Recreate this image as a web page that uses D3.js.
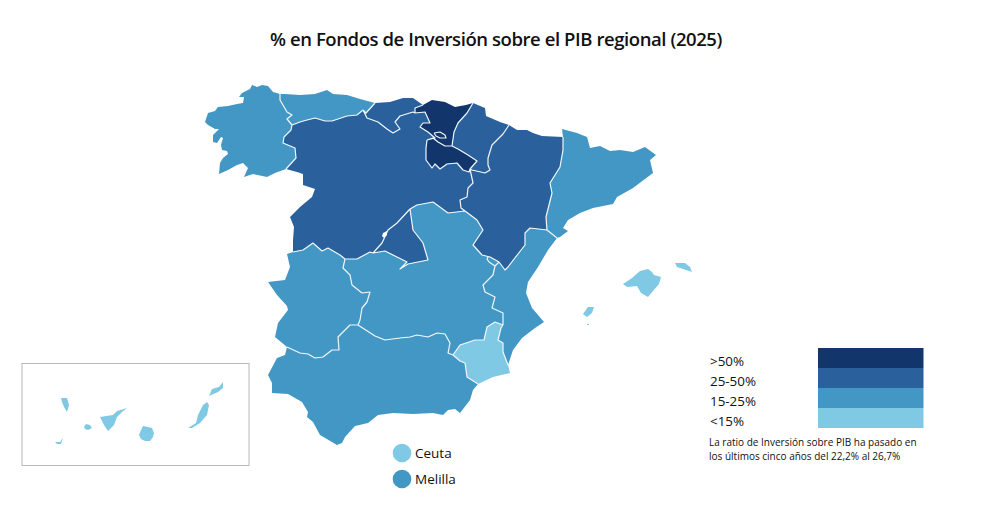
<!DOCTYPE html>
<html lang="es"><head><meta charset="utf-8">
<script src="https://cdn.jsdelivr.net/npm/d3@7/dist/d3.min.js"></script>
<style>html,body{margin:0;background:#fff}svg{display:block}text{font-family:"Open Sans",sans-serif;fill:#111}</style>
</head><body><svg id="c" width="992" height="509"></svg>
<script>
const titleText = "% en Fondos de Inversión sobre el PIB regional (2025)";
const classLabels = [">50%","25-50%","15-25%","<15%"];
const classColors = ["#12356b","#2a619c","#4397c5","#80c9e5"];
const noteLines = ["La ratio de Inversión sobre PIB ha pasado en","los últimos cinco años del 22,2% al 26,7%"];

const regionNames = ["Galicia","Asturias","Cantabria","País Vasco","Navarra","La Rioja","Aragón","Cataluña","Castilla y León","Madrid","Castilla-La Mancha","C. Valenciana","Murcia","Andalucía","Extremadura","Baleares","Canarias"];
const regionClasses = ["15-25%","15-25%","25-50%",">50%","25-50%",">50%","25-50%","15-25%","25-50%","25-50%","15-25%","15-25%","<15%","15-25%","15-25%","<15%","<15%"];
const cityNames = ["Ceuta","Melilla"];
const cityClasses = ["<15%","15-25%"];

// Boundary arcs, in sheet units.
const arcs = {
 gal_coast:[[280,94],[273,92],[268,86],[262,85],[257,87],[252,85],[250,89],[242,93],[239,97],[244,97],[243,103],[237,104],[228,106],[218,107],[215,111],[208,113],[205,122],[208,125],[215,129],[219,129],[213,135],[213,142],[217,143],[221,137],[223,138],[221,145],[222,150],[227,151],[228,154],[223,158],[220,163],[219,174],[228,170],[237,165],[243,163],[248,168],[244,177],[253,174],[267,177],[275,173],[286,169]],
 pt_cyl:[[286,169],[297,172],[303,174],[303,185],[315,189],[312,197],[300,207],[290,217],[294,227],[293,240],[293,252]],
 gal_ast:[[280,94],[280,100],[287,112],[292,115],[287,119],[292,125]],
 gal_cyl:[[292,125],[291,130],[284,137],[283,143],[295,148],[296,158],[286,169]],
 ast_coast:[[280,94],[285,94],[300,95],[315,94],[327,90],[333,94],[347,95],[360,99],[375,103]],
 ast_kan:[[375,103],[366,113],[363,110]],
 ast_cyl:[[292,125],[300,122],[307,120],[315,118],[325,121],[332,121],[347,116],[357,115],[363,110]],
 kan_coast:[[375,103],[390,102],[403,98],[413,98],[423,105]],
 kan_cyl:[[363,110],[367,118],[378,122],[387,129],[393,133],[400,129],[395,122],[400,116],[413,112],[415,113]],
 kan_bas:[[415,113],[415,108],[423,105]],
 bas_coast:[[423,105],[432,100],[445,102],[455,107],[466,105],[473,103]],
 bas_nav:[[473,103],[467,113],[458,123],[454,132],[452,146]],
 bas_cyl:[[415,113],[425,112],[430,123],[423,123],[420,127],[428,132],[435,138],[427,140]],
 bas_rio:[[427,140],[433,138],[438,142],[445,146],[452,146]],
 nav_rio:[[452,146],[458,149],[468,155],[477,161],[470,169]],
 rio_cyl:[[470,169],[469,172],[463,170],[457,163],[447,164],[440,169],[435,164],[432,168],[426,160],[426,148],[427,140]],
 nav_coast:[[473,103],[485,108],[486,116],[500,122],[509,125]],
 nav_ara:[[470,169],[472,170],[485,173],[490,170],[488,165],[488,158],[492,145],[503,134],[509,125]],
 ara_coast:[[509,125],[517,130],[527,130],[533,133],[542,136],[563,137]],
 ara_cat:[[563,137],[563,150],[560,167],[550,183],[552,193],[549,205],[546,217],[547,230]],
 cat_coast:[[563,137],[562,129],[577,133],[587,137],[590,148],[600,146],[610,151],[620,150],[633,152],[645,147],[656,155],[650,160],[653,173],[633,188],[617,197],[613,204],[593,208],[580,213],[568,220],[563,228],[568,231],[560,237],[557,238]],
 cat_val:[[547,230],[557,238]],
 ara_val:[[547,230],[530,228],[525,233],[525,245],[518,254],[508,267],[505,270],[499,262]],
 ara_clm:[[465,211],[477,220],[483,230],[473,245],[482,255],[490,257],[499,262]],
 cyl_ara:[[470,169],[473,183],[468,188],[467,197],[460,200],[461,208],[465,211]],
 cyl_clmN:[[410,209],[417,205],[433,202],[448,213],[465,211]],
 cyl_mad:[[373,253],[382,243],[388,230],[397,223],[410,209]],
 clm_mad:[[373,253],[385,251],[397,257],[407,262],[400,269],[408,264],[428,260],[423,243],[413,230],[410,209]],
 cyl_clmW:[[345,259],[357,259],[370,252],[373,253]],
 cyl_ext:[[293,252],[303,250],[313,243],[322,251],[328,248],[340,255],[345,259]],
 ext_clm:[[345,259],[343,268],[350,275],[352,285],[362,293],[370,292],[367,302],[362,308],[360,320],[358,325]],
 ext_and:[[358,325],[350,325],[338,337],[339,350],[332,350],[323,357],[315,358],[308,354],[300,353],[287,347]],
 ext_pt:[[293,252],[287,254],[290,267],[285,280],[268,282],[277,295],[287,306],[288,310],[278,323],[275,337],[287,347]],
 and_clm:[[358,325],[375,336],[385,340],[400,338],[410,337],[417,335],[428,337],[437,333],[445,334],[450,343],[448,353],[453,355]],
 and_mur:[[453,355],[460,361],[465,363],[467,377],[478,384]],
 and_coast:[[287,347],[285,355],[277,358],[268,375],[272,383],[272,393],[288,394],[302,402],[308,412],[307,417],[313,422],[320,435],[337,445],[342,443],[345,437],[355,426],[368,423],[378,415],[393,413],[413,414],[433,413],[443,415],[448,410],[455,409],[460,413],[470,400],[473,390],[478,384]],
 mur_clm:[[453,355],[460,345],[475,340],[484,340],[487,327],[495,322],[503,325]],
 val_clm:[[499,262],[495,266],[493,275],[483,285],[485,292],[495,297],[492,308],[503,313],[503,325]],
 mur_val:[[503,325],[501,328],[498,340],[503,343],[503,352],[508,365]],
 mur_coast:[[508,365],[510,373],[493,377],[478,384]],
 val_coast:[[557,238],[548,250],[538,267],[528,282],[526,293],[532,308],[544,322],[535,328],[522,338],[513,350],[508,365]]
};
const regionRings = [
 ["gal_ast","gal_cyl","-gal_coast"],
 ["ast_coast","ast_kan","-ast_cyl","-gal_ast"],
 ["kan_coast","-kan_bas","-kan_cyl","-ast_kan"],
 ["bas_coast","bas_nav","-bas_rio","-bas_cyl","kan_bas"],
 ["nav_coast","-nav_ara","-nav_rio","-bas_nav"],
 ["bas_rio","nav_rio","rio_cyl"],
 ["ara_coast","ara_cat","ara_val","-ara_clm","-cyl_ara","nav_ara"],
 ["cat_coast","-cat_val","-ara_cat"],
 ["-gal_cyl","ast_cyl","kan_cyl","bas_cyl","-rio_cyl","cyl_ara","-cyl_clmN","-cyl_mad","-cyl_clmW","-cyl_ext","-pt_cyl"],
 ["cyl_mad","-clm_mad"],
 ["cyl_clmW","clm_mad","cyl_clmN","ara_clm","val_clm","-mur_clm","-and_clm","-ext_clm"],
 ["cat_val","val_coast","-mur_val","-val_clm","-ara_val"],
 ["mur_val","mur_coast","-and_mur","mur_clm"],
 ["and_clm","and_mur","-and_coast","-ext_and"],
 ["ext_clm","ext_and","-ext_pt","cyl_ext"]
];
const interiorArcs = ["gal_ast","gal_cyl","ast_kan","ast_cyl","kan_cyl","kan_bas","bas_nav","bas_cyl","bas_rio","nav_rio","rio_cyl","nav_ara","ara_cat","cat_val","ara_val","ara_clm","cyl_ara","cyl_clmN","cyl_mad","clm_mad","cyl_clmW","cyl_ext","ext_clm","ext_and","and_clm","and_mur","mur_clm","val_clm","mur_val"];
const enclaveLines = [
 [[434,133],[440,132],[445,135],[446,138],[440,138],[436,136],[434,133]],
 [[488,257],[487,259],[489,262],[495,266]]
];
const enclaveHole = [[383,233],[387,231],[387,235],[384,238],[382,236],[383,233]];
const baleares = [
 [[623,284],[632,278],[640,271],[648,269],[652,272],[654,275],[661,277],[659,284],[653,291],[648,297],[641,293],[637,286],[627,287],[623,284]],
 [[675,263],[685,263],[690,267],[692,272],[683,269],[677,267],[675,263]],
 [[583,314],[588,307],[594,307],[592,313],[587,317],[583,314]],
 [[587,324],[589,324],[589,325],[587,325],[587,324]]
];
const canarias = [
 [[61,398],[67,398],[69,405],[67,412],[64,407],[62,402],[61,398]],
 [[55,442],[60,442],[63,438],[61,444],[57,444],[55,442]],
 [[84,427],[86,424],[90,425],[92,428],[88,430],[85,429],[84,427]],
 [[100,417],[113,415],[117,411],[127,408],[122,412],[117,417],[114,425],[108,431],[104,425],[100,417]],
 [[143,426],[148,427],[152,428],[154,433],[153,437],[150,441],[145,441],[141,439],[139,435],[141,430],[143,426]],
 [[207,402],[209,405],[207,415],[200,423],[192,428],[188,428],[196,423],[198,415],[203,405],[207,402]],
 [[209,396],[212,389],[219,387],[223,382],[223,388],[218,392],[209,396]]
];

const svg = d3.select("#c");
const color = d3.scaleOrdinal(classLabels, classColors);
const sheet = d3.geoIdentity();
const path = d3.geoPath(sheet);

function ring(ids){
  const out=[];
  ids.forEach(id=>{
    const rev=id[0]==="-", a=arcs[rev?id.slice(1):id], pts=rev?a.slice().reverse():a;
    pts.forEach((p,i)=>{ if(i>0||!out.length) out.push(p); });
  });
  return out;
}
const features = regionRings.map((ids,i)=>({type:"Feature",properties:{name:regionNames[i],cls:regionClasses[i]},geometry:{type:"Polygon",coordinates:[ring(ids)]}}));
features.push({type:"Feature",properties:{name:"Baleares",cls:regionClasses[15]},geometry:{type:"MultiPolygon",coordinates:baleares.map(r=>[r])}});
features.push({type:"Feature",properties:{name:"Canarias",cls:regionClasses[16]},geometry:{type:"MultiPolygon",coordinates:canarias.map(r=>[r])}});

svg.append("text").attr("x",496).attr("y",46).attr("text-anchor","middle").attr("font-size",18.5).attr("font-weight",600).attr("letter-spacing",-0.42).text(titleText);

svg.append("g").selectAll("path").data(features).join("path")
  .attr("d",path).attr("fill",d=>color(d.properties.cls));
svg.append("path")
  .datum({type:"MultiLineString",coordinates:interiorArcs.map(k=>arcs[k]).concat(enclaveLines)})
  .attr("d",path).attr("fill","none").attr("stroke","#eef6fb").attr("stroke-width",1.2).attr("stroke-linejoin","round");
svg.append("path").datum({type:"Polygon",coordinates:[enclaveHole]}).attr("d",path).attr("fill","#fff");

// Canary Islands inset frame
svg.append("rect").attr("x",22).attr("y",363.5).attr("width",227).attr("height",102).attr("fill","none").attr("stroke","#b8b8b8").attr("stroke-width",1);

// Ceuta / Melilla
const cityY = d3.scalePoint(cityNames,[453,479]);
const cities = svg.append("g").selectAll("g").data(cityNames).join("g").attr("transform",d=>`translate(402,${cityY(d)})`);
cities.append("circle").attr("r",9.3).attr("fill",(d,i)=>color(cityClasses[i]));
cities.append("text").attr("x",13).attr("y",5).attr("font-size",13.5).text(d=>d);

// Legend
const legendY = d3.scaleBand(classLabels,[348,428]);
svg.append("g").selectAll("rect").data(classLabels).join("rect")
  .attr("x",818).attr("y",d=>legendY(d)).attr("width",105.5).attr("height",legendY.bandwidth()).attr("fill",d=>color(d));
svg.append("g").selectAll("text").data(classLabels).join("text")
  .attr("x",710).attr("y",d=>legendY(d)+17.5).attr("font-size",13.4).text(d=>d);
svg.append("g").selectAll("text").data(noteLines).join("text")
  .attr("x",709).attr("y",(d,i)=>446+i*13.5).attr("font-size",10).text(d=>d);
</script></body></html>
